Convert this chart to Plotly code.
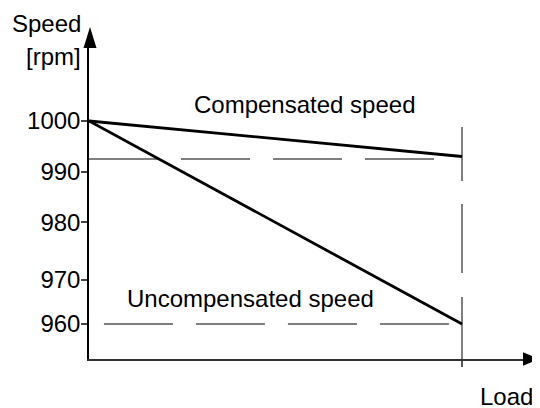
import plotly.graph_objects as go

# Load axis runs from no load (0) to full load (1)
load = [0, 1]
compensated_speed = [1000, 993]
uncompensated_speed = [1000, 960]

# Dashed guide lines
comp_guide_x = [0, 0.95]
comp_guide_y = [992.5, 992.5]
uncomp_guide_x = [0.04, 1]
uncomp_guide_y = [960, 960]
full_load_x = [1, 1]
full_load_y = [953.1, 998.8]  # drawn bottom-up

speed_tick_pos = [1000, 990, 980, 968.7, 960]
speed_tick_text = ["1000", "990", "980", "970", "960"]

FONT = "Liberation Sans, Arial, sans-serif"
PAGE_OFF = 8  # default body margin of the html page
W, H = 540 - PAGE_OFF, 408 - PAGE_OFF
M = dict(l=89 - PAGE_OFF, r=17, t=48 - PAGE_OFF, b=49)
PW = W - M["l"] - M["r"]
PH = H - M["t"] - M["b"]


def paper(px, py):
    """window pixel position -> paper coords of the plot area"""
    px, py = px - PAGE_OFF, py - PAGE_OFF
    return (px - M["l"]) / PW, (H - M["b"] - py) / PH


fig = go.Figure()

guide = dict(color="#555555", width=1.5)
fig.add_trace(go.Scatter(x=comp_guide_x, y=comp_guide_y, mode="lines",
                         line=dict(guide, dash="69px,23px")))
fig.add_trace(go.Scatter(x=uncomp_guide_x, y=uncomp_guide_y, mode="lines",
                         line=dict(guide, dash="69px,23px")))
fig.add_trace(go.Scatter(x=full_load_x, y=full_load_y, mode="lines",
                         line=dict(guide, dash="62px,24px,69px,23px")))

fig.add_trace(go.Scatter(x=load, y=compensated_speed, mode="lines",
                         line=dict(color="black", width=2.8)))
fig.add_trace(go.Scatter(x=load, y=uncompensated_speed, mode="lines",
                         line=dict(color="black", width=2.8)))

y_range = [953.1, 1014.38]

# axis arrowheads
fig.add_shape(type="path", xref="paper", yref="paper", xsizemode="pixel", ysizemode="pixel",
              xanchor=0, yanchor=1, path="M -5.5,0 L 7.5,0 L 1,21 Z",
              fillcolor="black", line=dict(width=0))
fig.add_shape(type="path", xref="paper", yref="paper", xsizemode="pixel", ysizemode="pixel",
              xanchor=1, yanchor=0, path="M 0,-6.7 L 0,6.7 L 16,0 Z",
              fillcolor="black", line=dict(width=0))

labels = [
    ("Speed", 83, 23.3, "right"),
    ("[rpm]", 83, 56.6, "right"),
    ("Compensated speed", 192, 104.6, "left"),
    ("Uncompensated speed", 125, 298.3, "left"),
    ("Load", 535, 396.6, "right"),
]
for text, px, py, anchor in labels:
    ax, ay = paper(px, py)
    fig.add_annotation(text=text, x=ax, y=ay, xref="paper", yref="paper",
                       xanchor=anchor, yanchor="middle", showarrow=False,
                       font=dict(family=FONT, size=24, color="black"))

fig.update_layout(
    width=W, height=H,
    margin=M,
    showlegend=False,
    plot_bgcolor="white",
    paper_bgcolor="white",
    font=dict(family=FONT, size=24, color="black"),
    xaxis=dict(
        range=[0, PW / 373],
        showline=True, linecolor="#333333", linewidth=1.5,
        showgrid=False, zeroline=False,
        tickvals=[1], ticks="outside", ticklen=6, tickwidth=1.5, tickcolor="#555555",
        showticklabels=False,
    ),
    yaxis=dict(
        range=y_range,
        showline=True, linecolor="black", linewidth=1.5,
        showgrid=False, zeroline=False,
        tickvals=speed_tick_pos, ticktext=speed_tick_text,
        ticks="outside", ticklen=6, tickwidth=1.5, tickcolor="#444444",
        ticklabelstandoff=-4,
        tickfont=dict(family=FONT, size=24, color="black"),
    ),
    yaxis2=dict(
        range=y_range, overlaying="y", side="left", anchor="x",
        showline=False, showgrid=False, zeroline=False,
        tickvals=speed_tick_pos, ticks="inside", ticklen=7, tickwidth=1.5,
        tickcolor="#444444", showticklabels=False,
    ),
)

fig.write_html("out.html")
